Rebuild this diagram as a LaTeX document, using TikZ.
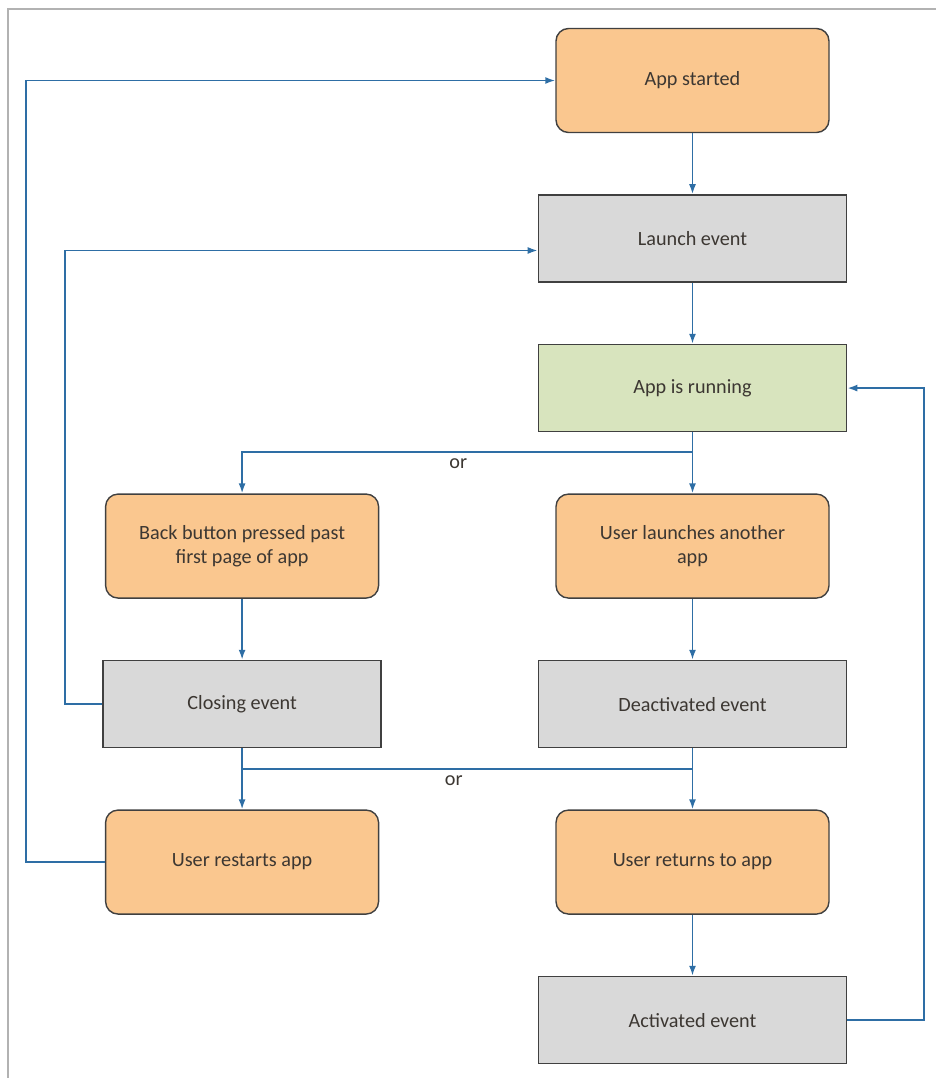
\documentclass[tikz,border=0pt]{standalone}
\usepackage{fontspec}
\setmainfont{Carlito}
\usetikzlibrary{positioning,arrows.meta}
\definecolor{appOrange}{RGB}{250,199,143}
\definecolor{appGray}{RGB}{217,217,217}
\definecolor{appGreen}{RGB}{216,228,190}
\definecolor{appBlue}{RGB}{46,110,165}
\definecolor{appText}{RGB}{60,55,50}

\begin{document}
\begin{tikzpicture}[
        node distance=1.22cm,
        >={Latex[length=2mm,width=1.4mm]},
        action/.style={
            draw=black!75,
            line width=0.8pt,
            rounded corners=2.5mm,
            minimum width=5.46cm,
            minimum height=2.08cm,
            align=center,
            fill=appOrange,
            text=appText,
            font=\fontsize{11.5}{14}\selectfont
        },
        event/.style={
            draw=black!75,
            line width=0.9pt,
            minimum width=6.16cm,
            minimum height=1.74cm,
            align=center,
            fill=appGray,
            text=appText,
            font=\fontsize{11.5}{14}\selectfont
        },
        flow/.style={->, draw=appBlue, line width=1pt},
        wire/.style={draw=appBlue, line width=1pt},
        orlabel/.style={text=appText, font=\fontsize{11.5}{14}\selectfont}
    ]
        \useasboundingbox (0,0) rectangle (18.72,-21.56);
        \draw[gray!60, line width=1.2pt] (18.72,-0.18) -- (0.16,-0.18) -- (0.16,-21.56);

        \node[action] (started) at (13.85,-1.61) {App started};
        \node[event, below=of started] (launch) {Launch event};
        \node[event, below=of launch, fill=appGreen] (running) {App is running};
        \node[action, below=of running] (launches) {User launches another\\app};
        \node[event, below=of launches] (deactivated) {Deactivated event};
        \node[action, below=of deactivated] (returns) {User returns to app};
        \node[event, below=of returns] (activated) {Activated event};

        \node[action, left=3.52cm of launches] (back) {Back button pressed past\\first page of app};
        \node[event, below=of back, minimum width=5.56cm] (closing) {Closing event};
        \node[action, below=of closing] (restarts) {User restarts app};

        \coordinate (orA) at ([yshift=-0.4cm]running.south);
        \coordinate (orB) at ([yshift=-0.42cm]closing.south);
        \coordinate (orB2) at (orB -| deactivated);

        \draw[flow] (started) -- (launch);
        \draw[flow] (launch) -- (running);
        \draw[flow] (running) -- (launches);
        \draw[flow] (orA) -| node[pos=0.26, below, orlabel]{or} (back);
        \draw[flow] (back) -- (closing);
        \draw[flow] (launches) -- (deactivated);
        \draw[flow] (closing) -- (restarts);
        \draw[flow] (deactivated) -- (returns);
        \draw[wire] (orB) -- node[pos=0.47, below, orlabel]{or} (orB2);
        \draw[flow] (returns) -- (activated);
        \draw[flow] (closing.west) -- ++(-0.74cm,0) |- ([yshift=-0.24cm]launch.west);
        \draw[flow] (restarts.west) -- ++(-1.58cm,0) |- (started.west);
        \draw[flow] (activated.east) -- ++(1.54cm,0) |- (running.east);
    \end{tikzpicture}
\end{document}
